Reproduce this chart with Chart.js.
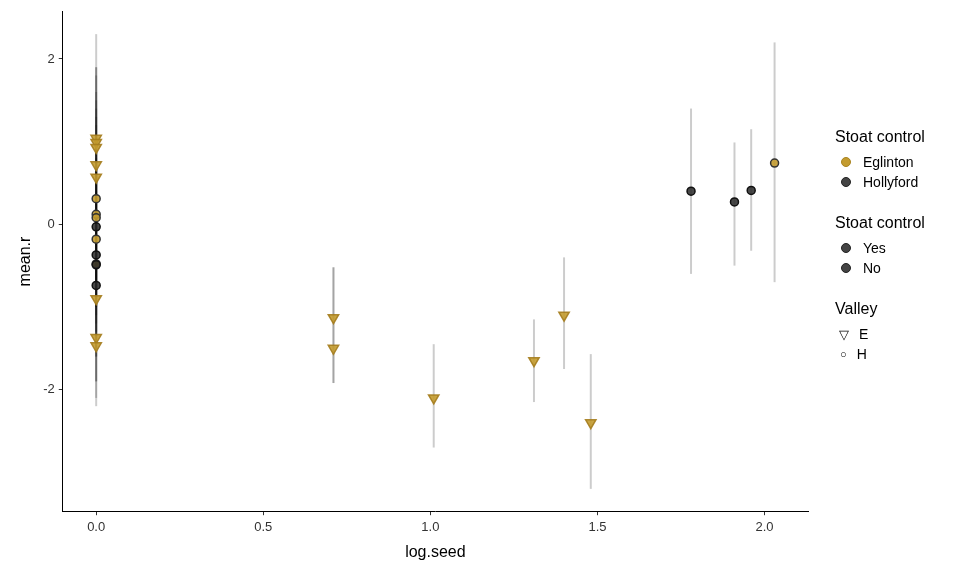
<!DOCTYPE html><html><head><meta charset="utf-8">
<script src="https://cdn.jsdelivr.net/npm/chart.js@4"></script>
<style>body{margin:0;background:#fff;font-family:"Liberation Sans",Arial,sans-serif}
#w{position:relative;width:960px;height:576px}
#lg{position:absolute;left:835px;top:128px;font-size:14px;color:#000}
.t{font-size:16px;margin-bottom:6px}.r{display:flex;align-items:center;height:20px;font-size:14px}
.d{width:8px;height:8px;border-radius:50%;margin:0 12px 0 6px;border:1px solid #222}
</style></head><body><div id="w"><canvas id="c" width="960" height="576"></canvas>
<div id="lg">
<div class="t">Stoat control</div>
<div class="r"><span class="d" style="background:#c39b2f;border-color:#a88320"></span>Eglinton</div>
<div class="r"><span class="d" style="background:#444"></span>Hollyford</div>
<div class="t" style="margin-top:22px">Stoat control</div>
<div class="r"><span class="d" style="background:#444"></span>Yes</div>
<div class="r"><span class="d" style="background:#444"></span>No</div>
<div class="t" style="margin-top:22px">Valley</div>
<div class="r"><span style="margin:0 10px 0 4px;font-size:13px">▽</span>E</div>
<div class="r"><span style="margin:0 10px 0 5px;font-size:11px">○</span>H</div>
</div></div>
<script>
const xE=[0,0,0,0,0,0,0,0,0.71,0.71,1.01,1.31,1.40,1.48];
const yE=[1.04,0.99,0.93,0.72,0.57,-0.9,-1.37,-1.47,-1.13,-1.5,-2.1,-1.65,-1.1,-2.4];
const loE=[-0.5,-0.6,-0.7,-0.8,-1.0,-1.9,-2.2,-2.1,-1.92,-1.92,-2.7,-2.15,-1.75,-3.2];
const hiE=[2.3,1.9,1.8,1.6,1.5,0.1,-0.5,-0.6,-0.52,-0.52,-1.45,-1.15,-0.4,-1.57];
const xEc=[0,0,0,0,0,2.03];
const yEc=[0.31,0.12,0.08,-0.18,-0.48,0.74];
const loEc=[-0.8,-1.0,-1.1,-1.3,-1.6,-0.7];
const hiEc=[1.4,1.2,1.3,1.0,0.7,2.2];
const xH=[0,0,0,0,1.78,1.91,1.96];
const yH=[-0.03,-0.37,-0.49,-0.74,0.4,0.27,0.41];
const loH=[-1.2,-1.5,-1.6,-1.9,-0.6,-0.5,-0.32];
const hiH=[1.9,0.8,0.7,0.4,1.4,0.99,1.15];
const xTicks=[0,0.5,1.0,1.5,2.0];
const yTicks=[-2,0,2];
const mk=(xs,ys,lo,hi)=>xs.map((x,i)=>({x,y:ys[i],lo:lo[i],hi:hi[i]}));
const eb={id:'eb',beforeDatasetsDraw(ch){const c=ch.ctx,xs=ch.scales.x,ys=ch.scales.y;c.save();c.strokeStyle='rgba(0,0,0,0.2)';c.lineWidth=2;
ch.data.datasets.forEach(d=>d.data.forEach(p=>{const px=xs.getPixelForValue(p.x);c.beginPath();c.moveTo(px,ys.getPixelForValue(p.lo));c.lineTo(px,ys.getPixelForValue(p.hi));c.stroke();}));c.restore();}};
const gold='rgba(195,155,47,0.9)',goldB='rgba(165,125,30,0.9)',dark='rgba(40,40,40,0.85)';
const grid={display:true,drawOnChartArea:false,drawTicks:true,tickLength:4,tickColor:'#333',color:'#333'};
new Chart(document.getElementById('c'),{type:'scatter',
data:{datasets:[
{data:mk(xE,yE,loE,hiE),pointStyle:'triangle',rotation:180,radius:6,backgroundColor:gold,borderColor:goldB,borderWidth:1.5},
{data:mk(xH,yH,loH,hiH),pointStyle:'circle',radius:4,backgroundColor:dark,borderColor:'#111',borderWidth:1.5},
{data:mk(xEc,yEc,loEc,hiEc),pointStyle:'circle',radius:4,backgroundColor:gold,borderColor:'#333',borderWidth:1.5}
]},
options:{responsive:false,animation:false,layout:{padding:{left:12,right:152,top:10,bottom:10}},
plugins:{legend:{display:false},tooltip:{enabled:false}},
scales:{x:{type:'linear',min:-0.1,max:2.13,afterBuildTicks:a=>{a.ticks=xTicks.map(v=>({value:v}))},
grid,border:{color:'#000',width:1},
ticks:{color:'#333',font:{size:13},padding:4,callback:v=>v.toFixed(1)},title:{display:true,text:'log.seed',font:{size:16},color:'#000'}},
y:{min:-3.47,max:2.57,afterBuildTicks:a=>{a.ticks=yTicks.map(v=>({value:v}))},
grid,border:{color:'#000',width:1},
ticks:{color:'#333',font:{size:13},padding:4},title:{display:true,text:'mean.r',font:{size:16},color:'#000'}}}},
plugins:[eb]});
</script></body></html>
